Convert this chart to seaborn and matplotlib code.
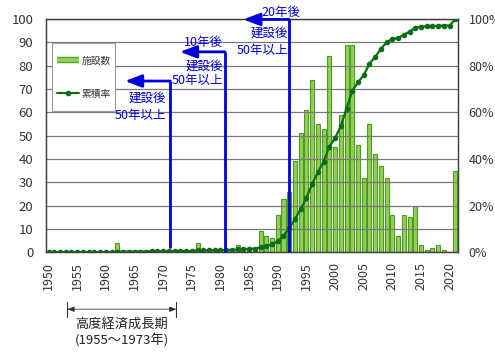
import matplotlib
matplotlib.use("Agg")
import matplotlib.pyplot as plt
import matplotlib.patheffects as pe
from matplotlib.lines import Line2D
from matplotlib.patches import Rectangle
import numpy as np
import pandas as pd
import seaborn as sns

# ---- data -------------------------------------------------------------
years = list(range(1950, 2022))

# facilities built per year
counts = [
    0, 0, 0, 0, 0, 0, 0, 0, 0, 0,          # 1950-1959
    0, 0, 4, 0, 0, 0, 0, 0, 1, 0,          # 1960-1969
    0, 1, 0, 0, 0, 0, 4, 0, 0, 1,          # 1970-1979
    0, 1, 0, 3, 1, 2, 1, 9, 7, 6,          # 1980-1989
    16, 23, 26, 39, 51, 61, 74, 55, 53, 84,  # 1990-1999
    45, 59, 89, 89, 46, 32, 55, 42, 37, 32,  # 2000-2009
    16, 7, 16, 15, 20, 3, 1, 2, 3, 1,      # 2010-2019
    0, 35,                                  # 2020-2021
]

# cumulative share (%)
rates = [
    0, 0, 0, 0, 0, 0, 0, 0, 0, 0,
    0, 0, 0.3, 0.3, 0.3, 0.3, 0.3, 0.3, 0.4, 0.4,
    0.4, 0.5, 0.5, 0.5, 0.5, 0.5, 0.8, 0.8, 0.8, 0.9,
    0.9, 1.0, 1.0, 1.2, 1.3, 1.5, 1.6, 2.1, 2.7, 3.4,
    4.8, 7.1, 10.3, 14.2, 18.5, 23.3, 29.3, 34.2, 38.9, 45.3,
    49.0, 54.0, 61.6, 69.2, 72.9, 75.9, 80.8, 83.8, 87.2, 90.0,
    91.4, 91.8, 93.2, 94.6, 96.2, 96.7, 96.8, 96.9, 97.1, 97.2,
    97.2, 100,
]

year_labels = [str(y) for y in years]
tick_years = year_labels[::5]
left_ticks = list(range(0, 101, 10))
right_ticks = list(range(0, 101, 20))

series_names = ["施設数", "累積率"]
note_lines = ["建設後", "50年以上"]
note_after = ["10年後", "20年後"]
period_title = "高度経済成長期"
period_range = "(1955～1973年)"

# ---- style ------------------------------------------------------------
sns.set_style("white")
plt.rcParams["font.family"] = ["Noto Sans CJK JP", "DejaVu Sans"]

BAR_FILL = "#92d050"
BAR_EDGE = "#4c9a2a"
LINE_COL = "#0b6e14"
BLUE = "#0000dc"
GRID = "#7a7a7a"
TEXT = "#333333"

df = pd.DataFrame({"year": year_labels, "count": counts, "rate": rates})

fig = plt.figure(figsize=(4.95, 3.58), dpi=100)
ax = fig.add_axes([0.0923, 0.2953, 0.8335, 0.6517])

sns.barplot(data=df, x="year", y="count", order=year_labels, color=BAR_FILL,
            saturation=1, edgecolor=BAR_EDGE, linewidth=0.8, width=0.7,
            ax=ax)

ax2 = ax.twinx()
sns.pointplot(data=df, x="year", y="rate", order=year_labels, color=LINE_COL,
              markers="o", markersize=2.8, linewidth=1.6, errorbar=None,
              ax=ax2)

# ---- axes -------------------------------------------------------------
ax.set_xlim(-0.5, len(years) - 0.5)
ax.set_ylim(0, 100)
ax2.set_ylim(0, 100)
ax.set_xlabel("")
ax.set_ylabel("")
ax2.set_ylabel("")

ax.set_yticks(left_ticks)
ax.set_yticklabels([str(v) for v in left_ticks])
ax2.set_yticks(right_ticks)
ax2.set_yticklabels([f"{v}%" for v in right_ticks])

ax.set_xticks(range(0, len(years), 5))
ax.set_xticklabels(tick_years, rotation=90)
ax.set_xticks(np.arange(4.5, len(years), 5), minor=True)

ax.tick_params(axis="x", which="major", length=0, pad=7, labelsize=9,
               labelcolor=TEXT)
ax.tick_params(axis="x", which="minor", direction="in", length=3,
               color="#9a9a9a", width=0.8)
ax.tick_params(axis="y", length=0, pad=9, labelsize=9.5, labelcolor=TEXT)
ax2.tick_params(axis="y", length=0, pad=7.5, labelsize=9, labelcolor=TEXT)

ax.yaxis.grid(True, color=GRID, lw=0.9)
ax.xaxis.grid(False)
ax.set_axisbelow(False)
for a in (ax, ax2):
    for s in a.spines.values():
        s.set_visible(True)
        s.set_color("#404040")
        s.set_linewidth(0.9)

# ---- blue "50 years" markers ----------------------------------------
def age_marker(x, y_top, y_bottom, x_tip):
    ax2.plot([x, x], [y_bottom, y_top], color=BLUE, lw=2, zorder=5,
             solid_capstyle="butt", clip_on=False)
    ax2.annotate("", xy=(x_tip, y_top), xytext=(x, y_top),
                 arrowprops=dict(arrowstyle="-|>,head_length=10,head_width=3.8",
                                 mutation_scale=1, color=BLUE, lw=2,
                                 shrinkA=0, shrinkB=0),
                 annotation_clip=False, zorder=6)

age_marker(21.24, 73.4, 1.7, 13.34)
age_marker(30.79, 85.9, 0, 22.93)
age_marker(41.95, 99.8, 0, 33.98)

note_kw = dict(color=BLUE, fontsize=9, va="center", clip_on=False, zorder=6)
ax2.text(20.5, 66.0, note_lines[0], ha="right", **note_kw)
ax2.text(20.5, 58.8, note_lines[1], ha="right", **note_kw)

ax2.text(30.35, 90.0, note_after[0], ha="right", **note_kw)
ax2.text(30.45, 80.0, note_lines[0], ha="right", **note_kw)
ax2.text(30.45, 73.6, note_lines[1], ha="right", **note_kw)

ax2.text(40.6, 102.7, note_after[1], ha="center", **note_kw)
ax2.text(41.8, 94.0, note_lines[0], ha="right", **note_kw)
ax2.text(41.8, 86.7, note_lines[1], ha="right", **note_kw)

# ---- legend -----------------------------------------------------------
ax2.add_patch(Rectangle((0.016, 0.606), 0.153, 0.29, transform=ax2.transAxes,
                        facecolor="white", edgecolor="#9a9a9a", lw=0.8,
                        zorder=7, clip_on=False))
handles = [
    Line2D([0, 1], [0, 0], color=BAR_FILL, lw=3, solid_capstyle="butt",
           path_effects=[pe.Stroke(linewidth=4.6, foreground=BAR_EDGE,
                                   capstyle="butt"), pe.Normal()]),
    Line2D([0, 1], [0, 0], color=LINE_COL, lw=1.5, marker="o", markersize=3),
]
leg = ax2.legend(handles, series_names, loc="center",
                 bbox_to_anchor=(0.0925, 0.751), frameon=False, fontsize=7,
                 labelspacing=2.4, handlelength=2.3, handletextpad=0.3,
                 borderpad=0)
leg.set_zorder(8)
for t in leg.get_texts():
    t.set_color(TEXT)

# ---- high-growth period bracket ---------------------------------------
trans = ax.get_xaxis_transform()
x0, x1, yb = 3.3, 22.3, -0.244
ax.annotate("", xy=(x0, yb), xytext=(x1, yb), xycoords=trans,
            textcoords=trans,
            arrowprops=dict(arrowstyle="<|-|>,head_length=4,head_width=1.6",
                            mutation_scale=1, color="#333333", lw=0.6,
                            shrinkA=0, shrinkB=0),
            annotation_clip=False)
for xc in (x0, x1):
    ax.plot([xc, xc], [-0.214, -0.279], transform=trans, clip_on=False,
            color="#333333", lw=0.8)
ax.text(12.8, -0.31, period_title, transform=trans, ha="center",
        va="center", fontsize=9.5, color="#222222")
ax.text(12.8, -0.377, period_range, transform=trans, ha="center",
        va="center", fontsize=9.5, color="#222222")

fig.savefig("out.png", dpi=100, facecolor="white")
